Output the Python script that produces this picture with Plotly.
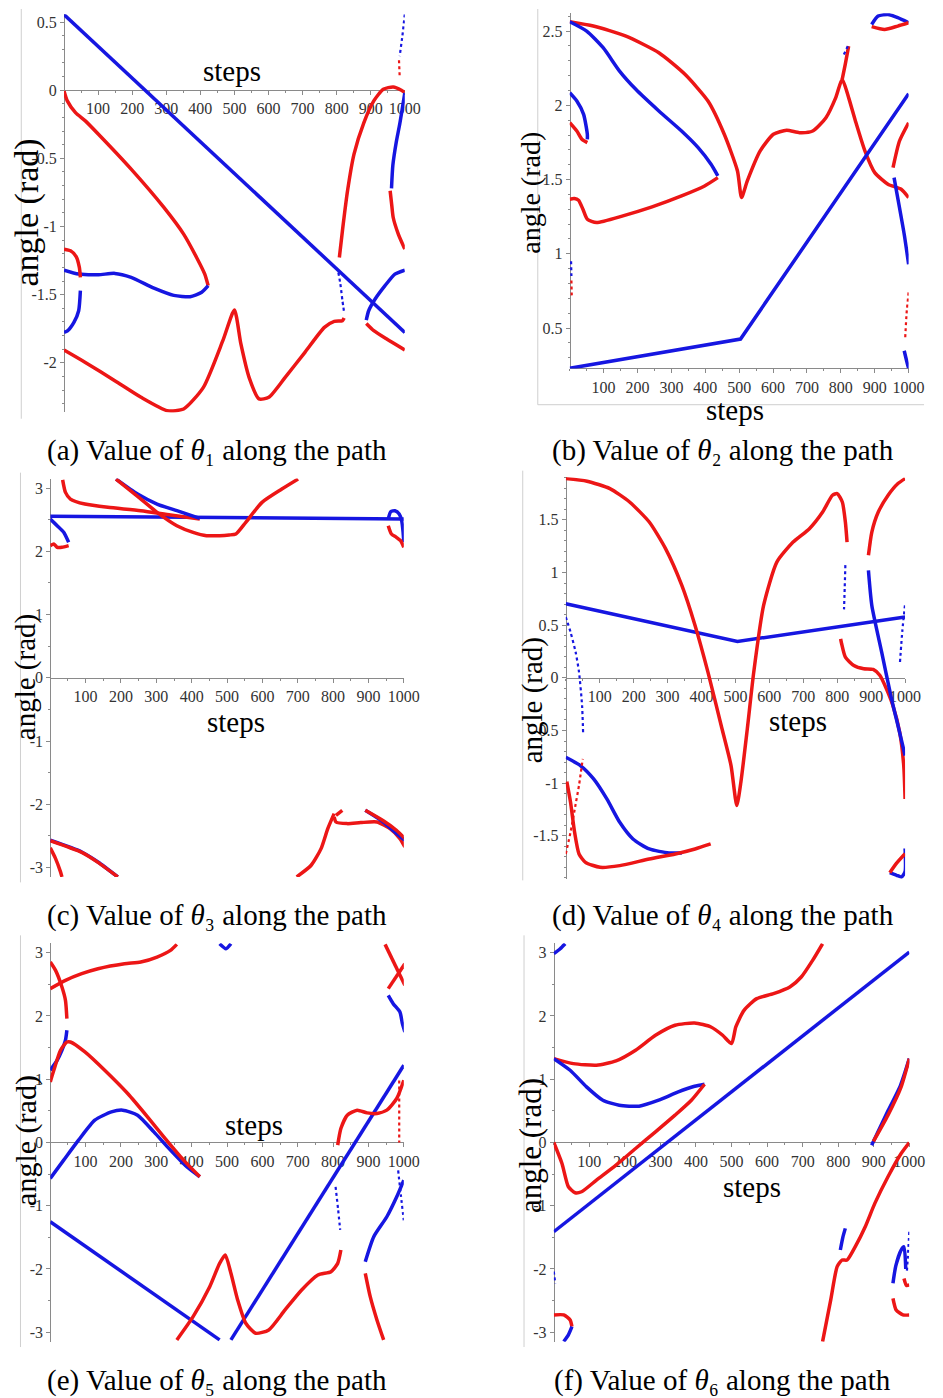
import plotly.graph_objects as go

# The page body has an 8px margin, so the figure is laid out in a 935x1390 box
# placed at (8, 8) inside the 943x1398 window.
OFF = 8
W, H = 935, 1390
RED = "rgb(236,22,22)"
BLUE = "rgb(22,22,225)"

# ---------------- data (steps, angle in rad) ----------------
# Panel (a) theta1
a_blue_line = [(0, 0.555), (1000, -1.777)]
a_red_1 = [(0, -0.005), (9.6, -0.078), (33.7, -0.164), (62.5, -0.225), (101, -0.323), (197, -0.579),
           (293, -0.860), (351, -1.056), (389, -1.227), (413, -1.349), (423, -1.434)]
a_blue_1 = [(0, -1.320), (43, -1.349), (101, -1.354), (149, -1.344), (197, -1.373), (264, -1.452),
            (322, -1.505), (370, -1.515), (404, -1.483), (423, -1.434)]
a_red_2 = [(0, -1.166), (19, -1.178), (36, -1.222), (45, -1.300), (48, -1.373)]
a_blue_2 = [(48, -1.471), (43, -1.618), (29, -1.704), (10, -1.766), (0, -1.777)]
a_red_3 = [(0, -1.906), (62.5, -1.997), (149, -2.131), (226, -2.253), (303, -2.351), (351, -2.339),
           (409, -2.180), (466, -1.838), (500, -1.613), (519, -1.862), (543, -2.107), (572, -2.265),
           (601, -2.253), (649, -2.107), (707, -1.923), (764, -1.740), (793, -1.696), (817, -1.691),
           (822, -1.672)]
a_blue_3 = [(805, -1.337), (811, -1.422), (817, -1.544), (822, -1.630)]
a_red_4 = [(808, -1.227), (817, -1.031), (832, -0.738), (851, -0.469), (880, -0.237), (909, -0.078),
           (937, 0.007), (966, 0.024), (990, 0.0), (1000, -0.017)]
a_red_5 = [(983, 0.22), (985, 0.10)]
a_blue_4 = [(1000, 0.557), (993, 0.40), (985, 0.25)]
a_blue_5 = [(1000, -0.02), (985, -0.25), (975, -0.38), (965, -0.55), (961, -0.72)]
a_red_6 = [(957, -0.738), (962, -0.85), (966, -0.934), (981, -1.056), (1000, -1.166)]
a_blue_6 = [(887, -1.686), (894, -1.618), (913, -1.532), (942, -1.434), (971, -1.349), (1000, -1.320)]
a_red_7 = [(887, -1.711), (909, -1.764), (947, -1.826), (1000, -1.906)]

# Panel (b) theta2
b_blue_line = [(0, 0.229), (504, 0.426), (1000, 2.078)]
b_red_1 = [(0, 2.563), (69.6, 2.534), (166, 2.466), (263, 2.354), (340, 2.209), (408, 2.029), (456, 1.805),
           (495, 1.558), (507, 1.379), (524, 1.491), (562, 1.693), (601, 1.805), (640, 1.832), (678, 1.816),
           (717, 1.827), (756, 1.917), (785, 2.052), (804, 2.175), (823, 2.052), (843, 1.895), (871, 1.693),
           (900, 1.547), (939, 1.469), (978, 1.435), (1000, 1.379)]
b_red_2 = [(804, 2.175), (813, 2.276), (823, 2.399)]
b_blue_1 = [(809, 2.343), (823, 2.41)]
b_blue_2 = [(0, 2.563), (50, 2.5), (98.6, 2.388), (147, 2.231), (195, 2.108), (263, 1.962), (330, 1.827),
            (379, 1.715), (417, 1.603), (437, 1.525)]
b_red_3 = [(437, 1.513), (398, 1.457), (330, 1.390), (243, 1.316), (157, 1.256), (79, 1.211), (52, 1.233),
           (39, 1.300), (26, 1.361), (13.5, 1.372), (0, 1.368)]
b_blue_3 = [(0, 2.085), (21, 2.029), (41, 1.939), (52, 1.805), (52, 1.771)]
b_red_4 = [(0, 1.883), (21, 1.827), (36, 1.771), (52, 1.749)]
b_blue_4 = [(4, 0.95), (5, 0.85)]
b_red_5 = [(5, 0.82), (6, 0.72)]
b_blue_5 = [(891, 2.545), (910, 2.601), (939, 2.612), (968, 2.590), (1000, 2.556)]
b_red_6 = [(891, 2.530), (929, 2.511), (968, 2.534), (1000, 2.556)]
b_red_7 = [(954, 1.581), (973, 1.760), (1000, 1.883)]
b_blue_6 = [(957, 1.513), (973, 1.312), (987, 1.132), (1000, 0.930)]
b_red_8 = [(1000, 0.740), (994, 0.6), (990, 0.437)]
b_blue_7 = [(987, 0.347), (994, 0.28), (1000, 0.229)]

# Panel (c) theta3
c_blue_line = [(0, 2.553), (1000, 2.511)]
c_blue_1 = [(956, 2.511), (963, 2.626), (975, 2.642), (987, 2.589), (994, 2.484), (998, 2.3), (1000, 2.142)]
c_red_1 = [(956, 2.405), (965, 2.274), (979, 2.221), (991, 2.168), (1000, 2.063)]
c_blue_2 = [(0, 2.511), (19.5, 2.405), (38, 2.3), (52, 2.142)]
c_red_2 = [(0, 2.089), (10, 2.116), (19.5, 2.063), (33, 2.063), (52, 2.089)]
c_red_3 = [(35, 3.13), (43, 2.932), (57, 2.826), (98, 2.747), (163, 2.695), (256, 2.642), (340, 2.574),
           (423, 2.511)]
c_blue_3 = [(186, 3.142), (247, 2.905), (302, 2.747), (358, 2.642), (423, 2.521)]
c_red_4 = [(186, 3.142), (247, 2.868), (302, 2.616), (358, 2.405), (404, 2.3), (442, 2.247), (479, 2.247),
           (506, 2.258), (525, 2.274), (553, 2.458), (599, 2.774), (655, 2.984), (701, 3.142)]
c_blue_4 = [(0, -2.568), (89, -2.753), (135, -2.911), (191, -3.147)]
c_red_5 = [(0, -2.575), (89, -2.76), (135, -2.918), (191, -3.147)]
c_red_6 = [(0, -2.689), (15, -2.858), (29, -3.068), (33, -3.147)]
c_red_7 = [(697, -3.147), (738, -2.963), (766, -2.700), (785, -2.384), (803, -2.147)]
c_red_8 = [(803, -2.2), (808, -2.279), (840, -2.305), (878, -2.289), (924, -2.279), (961, -2.384),
           (989, -2.542), (1003, -2.674)]
c_red_9 = [(808, -2.174), (826, -2.095)]
c_blue_5 = [(891, -2.095), (942, -2.279), (979, -2.458), (1003, -2.568)]
c_red_10 = [(891, -2.095), (942, -2.26), (979, -2.41), (1003, -2.542)]

# Panel (d) theta4
d_blue_line = [(0, 0.703), (506, 0.345), (1000, 0.577)]
d_red_1 = [(0, 1.891), (62.7, 1.866), (130, 1.796), (188, 1.669), (246, 1.479), (294, 1.226), (342, 0.877),
           (381, 0.497), (419, 0.054), (458, -0.453), (487, -0.833), (504, -1.213), (516, -0.991),
           (535, -0.485), (554, 0.054), (583, 0.687), (622, 1.099), (670, 1.289), (718, 1.416),
           (757, 1.574), (786, 1.733), (800, 1.749), (815, 1.669), (824, 1.479), (829, 1.289)]
d_blue_1 = [(824, 1.07), (822, 0.85), (820, 0.65)]
d_red_2 = [(810, 0.37), (813, 0.323), (824, 0.196), (849, 0.117), (878, 0.086), (906, 0.079), (926, 0.022),
           (945, -0.105), (964, -0.263), (984, -0.516), (996, -0.833), (1000, -1.15)]
d_red_3 = [(892, 1.163), (902, 1.384), (921, 1.574), (950, 1.733), (979, 1.844), (1000, 1.891)]
d_blue_2 = [(892, 1.02), (902, 0.687), (931, 0.244), (960, -0.2), (979, -0.453), (1000, -0.738)]
d_blue_3 = [(985, 0.15), (992, 0.45), (1000, 0.70)]
d_blue_4 = [(0, 0.577), (14, 0.434), (29, 0.244), (39, 0.054), (48, -0.263), (51, -0.516)]
d_red_4 = [(3, -0.985), (14, -1.181), (26, -1.467), (39, -1.672), (58, -1.752), (101, -1.799), (159, -1.783),
           (246, -1.720), (323, -1.672), (381, -1.625), (427, -1.577)]
d_red_5 = [(0, -1.672), (15, -1.45), (29, -1.20), (39, -1.02), (50, -0.77)]
d_blue_5 = [(0, -0.754), (43, -0.833), (82, -0.96), (121, -1.15), (159, -1.372), (198, -1.53), (246, -1.625),
            (304, -1.663), (342, -1.663)]
d_blue_6 = [(955, -1.85), (975, -1.875), (990, -1.89), (1000, -1.84), (1000, -1.62)]
d_red_6 = [(955, -1.85), (975, -1.76), (1000, -1.67)]

# Panel (e) theta5
e_blue_line_1 = [(0, -1.253), (479, -3.121)]
e_blue_line_2 = [(511, -3.121), (1000, 1.221)]
e_blue_1 = [(479, 3.142), (497, 3.063), (511, 3.142)]
e_red_1 = [(0, 2.432), (43, 2.563), (89, 2.668), (135, 2.747), (210, 2.826), (256, 2.853), (302, 2.932),
           (340, 3.037), (358, 3.132)]
e_red_2 = [(0, 2.853), (15, 2.721), (33, 2.458), (43, 2.247), (47, 1.958)]
e_blue_2 = [(0, 1.142), (19.5, 1.3), (33, 1.458), (43, 1.616), (47, 1.774)]
e_red_3 = [(0, 0.958), (10, 1.142), (29, 1.458), (47, 1.589), (57, 1.589), (98, 1.432), (154, 1.142),
           (219, 0.774), (275, 0.405), (321, 0.089), (377, -0.279), (423, -0.542)]
e_blue_3 = [(0, -0.568), (38, -0.279), (80, 0.037), (126, 0.353), (173, 0.484), (205, 0.511), (247, 0.432),
            (293, 0.168), (340, -0.121), (386, -0.384), (423, -0.542)]
e_red_4 = [(358, -3.121), (404, -2.753), (451, -2.279), (479, -1.911), (495, -1.779), (511, -2.068),
           (530, -2.489), (553, -2.858), (581, -3.016), (618, -2.963), (664, -2.647), (711, -2.332),
           (757, -2.095), (794, -2.042), (813, -1.911), (822, -1.7)]
e_red_5 = [(813, -0.042), (822, 0.221), (840, 0.432), (868, 0.511), (896, 0.468), (924, 0.458), (952, 0.511),
           (980, 0.695), (1000, 0.984)]
e_blue_4 = [(807, -0.7), (814, -1.05), (820, -1.38)]
e_blue_5 = [(891, -1.884), (915, -1.489), (952, -1.174), (980, -0.858), (1000, -0.595)]
e_blue_6 = [(984, -0.44), (992, -0.85), (1000, -1.23)]
e_red_6 = [(891, -2.068), (905, -2.437), (924, -2.805), (943, -3.121)]
e_red_7 = [(987, 0.98), (987, 0.0)]
e_red_8 = [(947, 3.132), (975, 2.80), (1003, 2.484)]
e_red_9 = [(956, 2.432), (980, 2.63), (1003, 2.826)]
e_blue_7 = [(956, 2.326), (970, 2.195), (989, 2.063), (996, 1.879), (1003, 1.747)]

# Panel (f) theta6
f_blue_line = [(0, -1.411), (1000, 3.011)]
f_red_1 = [(0, 1.326), (55, 1.247), (120, 1.221), (175, 1.289), (230, 1.458), (286, 1.695), (341, 1.853),
           (396, 1.889), (442, 1.826), (475, 1.695), (500, 1.563), (512, 1.826), (535, 2.089), (571, 2.274),
           (618, 2.353), (664, 2.458), (696, 2.616), (728, 2.879), (756, 3.142)]
f_blue_1 = [(0, 1.326), (46, 1.142), (92, 0.879), (138, 0.668), (184, 0.589), (240, 0.574), (295, 0.668),
            (350, 0.8), (396, 0.889), (424, 0.921)]
f_red_2 = [(424, 0.921), (387, 0.668), (341, 0.432), (286, 0.168), (230, -0.095), (175, -0.358),
           (120, -0.595), (78, -0.779), (60, -0.795), (41, -0.7), (23, -0.332), (0, 0.0)]
f_blue_2 = [(0, 2.984), (18, 3.063), (32, 3.142)]
f_blue_3 = [(894, -0.042), (940, 0.5), (975, 0.9), (1000, 1.326)]
f_red_3 = [(899, 0.016), (940, 0.432), (977, 0.879), (1000, 1.326)]
f_red_4 = [(756, -3.147), (779, -2.489), (797, -1.963), (811, -1.858), (825, -1.858), (848, -1.647),
           (876, -1.332), (903, -0.963), (940, -0.542), (977, -0.174), (1000, 0.0)]
f_blue_4 = [(806, -1.7), (813, -1.5), (820, -1.358)]
f_blue_5 = [(954, -2.226), (962, -1.95), (977, -1.7), (985, -1.65), (990, -2.0)]
f_blue_6 = [(1000, -1.411), (996, -1.8), (993, -2.05)]
f_red_5 = [(985, -2.15), (992, -2.26), (1000, -2.25)]
f_red_6 = [(954, -2.463), (963, -2.647), (982, -2.726), (1000, -2.726)]
f_red_7 = [(0, -2.726), (28, -2.726), (46, -2.805), (51, -2.911)]
f_blue_7 = [(51, -2.911), (41, -3.042), (28, -3.147)]
f_blue_8 = [(0, -2.04), (4, -2.23)]

# ---------------- panel layout (pixel geometry in the 943x1398 window) ----------------
panels = [
    dict(key="a", xpx=(65, 411.7), ypx=(13.3, 411.7), yr=(-2.364, 0.557), xaxis_at=0.0,
         yt=[0.5, 0, -0.5, -1, -1.5, -2], ytt=["0.5", "0", "-0.5", "-1", "-1.5", "-2"], ymin=0.1,
         steps=(236, 70), ang=(27, 212, 34), cap=(221, 450, "(a) Value of <i>θ</i>₁ along the path"),
         frame=[(21.5, 8, 21.5, 418)]),
    dict(key="b", xpx=(579.5, 924.3), ypx=(12.3, 367.7), yr=(0.228, 2.62), xaxis_at=None,
         yt=[2.5, 2, 1.5, 1, 0.5], ytt=["2.5", "2", "1.5", "1", "0.5"], ymin=0.1,
         steps=(748, 409), ang=(540, 192, 28), cap=(735, 450, "(b) Value of <i>θ</i>₂ along the path"),
         frame=[(547, 8, 547, 404), (547, 404, 940, 404)]),
    dict(key="c", xpx=(51, 410.7), ypx=(477.9, 876.7), yr=(-3.15, 3.15), xaxis_at=0.0,
         yt=[3, 2, 1, 0, -1, -2, -3], ytt=["3", "2", "1", "0", "-1", "-2", "-3"], ymin=0.5,
         steps=(240, 722), ang=(26, 677, 29), cap=(221, 915, "(c) Value of <i>θ</i>₃ along the path"),
         frame=[(20.7, 472, 20.7, 882)]),
    dict(key="d", xpx=(575.5, 920.7), ypx=(476.7, 878.3), yr=(-1.907, 1.903), xaxis_at=0.0,
         yt=[1.5, 1, 0.5, 0, -0.5, -1, -1.5], ytt=["1.5", "1", "0.5", "0", "-0.5", "-1", "-1.5"], ymin=0.1,
         steps=(812, 721), ang=(542, 700, 29), cap=(735, 915, "(d) Value of <i>θ</i>₄ along the path"),
         frame=[(531.7, 470, 531.7, 880)]),
    dict(key="e", xpx=(51, 410.7), ypx=(942.9, 1341.7), yr=(-3.15, 3.15), xaxis_at=0.0,
         yt=[3, 2, 1, 0, -1, -2, -3], ytt=["3", "2", "1", "0", "-1", "-2", "-3"], ymin=0.5,
         steps=(258, 1125), ang=(26, 1140, 30), cap=(221, 1380, "(e) Value of <i>θ</i>₅ along the path"),
         frame=[(20.7, 935, 20.7, 1347)]),
    dict(key="f", xpx=(563.3, 925), ypx=(942.9, 1341.7), yr=(-3.15, 3.15), xaxis_at=0.0,
         yt=[3, 2, 1, 0, -1, -2, -3], ytt=["3", "2", "1", "0", "-1", "-2", "-3"], ymin=0.5,
         steps=(765, 1187), ang=(539, 1145, 31), cap=(735, 1380, "(f) Value of <i>θ</i>₆ along the path"),
         frame=[(533, 935, 533, 1347)]),
]

curves = {
    "a": [(a_blue_line, BLUE, "lin"), (a_red_1, RED, ""), (a_blue_1, BLUE, ""), (a_red_2, RED, ""),
          (a_blue_2, BLUE, ""), (a_red_3, RED, ""), (a_blue_3, BLUE, "dot"), (a_red_4, RED, ""),
          (a_red_5, RED, "dot"), (a_blue_4, BLUE, "dot"), (a_blue_5, BLUE, ""), (a_red_6, RED, ""),
          (a_blue_6, BLUE, ""), (a_red_7, RED, "")],
    "b": [(b_red_1, RED, ""), (b_red_2, RED, ""), (b_blue_1, BLUE, "dot"), (b_blue_2, BLUE, ""),
          (b_red_3, RED, ""), (b_blue_3, BLUE, ""), (b_red_4, RED, ""), (b_blue_4, BLUE, "dot"),
          (b_red_5, RED, "dot"), (b_blue_5, BLUE, ""), (b_red_6, RED, ""), (b_red_7, RED, ""),
          (b_blue_6, BLUE, ""), (b_red_8, RED, "dot"), (b_blue_7, BLUE, ""), (b_blue_line, BLUE, "lin")],
    "c": [(c_blue_line, BLUE, "lin"), (c_blue_1, BLUE, ""), (c_red_1, RED, ""), (c_blue_2, BLUE, ""),
          (c_red_2, RED, ""), (c_red_3, RED, ""), (c_blue_3, BLUE, ""), (c_red_4, RED, ""),
          (c_blue_4, BLUE, ""), (c_red_5, RED, ""), (c_red_6, RED, ""), (c_red_7, RED, ""),
          (c_red_8, RED, ""), (c_red_9, RED, ""), (c_blue_5, BLUE, ""), (c_red_10, RED, "")],
    "d": [(d_blue_line, BLUE, "lin"), (d_red_1, RED, ""), (d_blue_1, BLUE, "dot"), (d_red_2, RED, ""),
          (d_red_3, RED, ""), (d_blue_2, BLUE, ""), (d_blue_3, BLUE, "dot"), (d_blue_4, BLUE, "dot"),
          (d_blue_5, BLUE, ""), (d_red_4, RED, ""), (d_red_5, RED, "dot"), (d_blue_6, BLUE, ""),
          (d_red_6, RED, "")],
    "e": [(e_blue_line_1, BLUE, "lin"), (e_blue_line_2, BLUE, "lin"), (e_blue_1, BLUE, ""), (e_red_1, RED, ""),
          (e_red_2, RED, ""), (e_blue_2, BLUE, ""), (e_blue_3, BLUE, ""), (e_red_3, RED, ""),
          (e_red_4, RED, ""), (e_red_5, RED, ""), (e_blue_4, BLUE, "dot"), (e_blue_5, BLUE, ""),
          (e_blue_6, BLUE, "dot"), (e_red_6, RED, ""), (e_red_7, RED, "dot"), (e_red_8, RED, "lin"),
          (e_red_9, RED, "lin"), (e_blue_7, BLUE, "")],
    "f": [(f_blue_line, BLUE, "lin"), (f_red_1, RED, ""), (f_blue_1, BLUE, ""), (f_red_2, RED, ""),
          (f_blue_2, BLUE, ""), (f_blue_3, BLUE, ""), (f_red_3, RED, ""), (f_red_4, RED, ""),
          (f_blue_4, BLUE, ""), (f_blue_5, BLUE, ""), (f_blue_6, BLUE, "dot"), (f_red_5, RED, ""),
          (f_red_6, RED, ""), (f_red_7, RED, ""), (f_blue_7, BLUE, ""), (f_blue_8, BLUE, "dot")],
}


def px_x(v):
    return (v - OFF) / W


def px_y(v):
    return 1 - (v - OFF) / H


FONT = "Liberation Serif"
AXC = "#8a8a8a"
fig = go.Figure()
layout = dict(width=W, height=H, margin=dict(l=0, r=0, t=0, b=0), paper_bgcolor="white",
              plot_bgcolor="white", showlegend=False, annotations=[], shapes=[])

for i, p in enumerate(panels):
    n = "" if i == 0 else str(i + 1)
    xd = [px_x(p["xpx"][0]), px_x(p["xpx"][1])]
    yd = [px_y(p["ypx"][1]), px_y(p["ypx"][0])]
    y0, y1 = p["yr"]
    if p["xaxis_at"] is None:
        xpos = yd[0]
    else:
        xpos = yd[0] + (p["xaxis_at"] - y0) / (y1 - y0) * (yd[1] - yd[0])
    layout["xaxis" + n] = dict(domain=xd, range=[0, 1000], anchor="free", position=xpos,
                               showline=True, linecolor=AXC, linewidth=1, showgrid=False, zeroline=False,
                               tickvals=list(range(100, 1001, 100)), ticks="outside", ticklen=4,
                               tickcolor=AXC, tickfont=dict(family=FONT, size=16, color="#333"),
                               minor=dict(ticks="outside", ticklen=2, tickcolor=AXC, dtick=50, tick0=0),
                               layer="below traces", fixedrange=True)
    layout["yaxis" + n] = dict(domain=yd, range=[y0, y1], anchor="free", position=xd[0],
                               showline=True, linecolor=AXC, linewidth=1, showgrid=False, zeroline=False,
                               tickvals=p["yt"], ticktext=p["ytt"], ticks="outside", ticklen=4,
                               tickcolor=AXC, tickfont=dict(family=FONT, size=16, color="#333"),
                               minor=dict(ticks="outside", ticklen=2, tickcolor=AXC, dtick=p["ymin"], tick0=0),
                               layer="below traces", fixedrange=True)
    for pts, col, kind in curves[p["key"]]:
        xs = [q[0] for q in pts]
        ys = [q[1] for q in pts]
        if kind == "lin":
            line = dict(color=col, width=3.5, shape="linear")
        elif kind == "dot":
            line = dict(color=col, width=2.2, dash="dot", shape="spline", smoothing=0.6)
        else:
            line = dict(color=col, width=3.5, shape="spline", smoothing=0.6)
        fig.add_trace(go.Scatter(x=xs, y=ys, mode="lines", line=line, xaxis="x" + n, yaxis="y" + n,
                                 hoverinfo="skip", showlegend=False))
    sx, sy = p["steps"]
    layout["annotations"].append(dict(text="steps", x=px_x(sx), y=px_y(sy), xref="paper", yref="paper",
                                      showarrow=False, xanchor="center", yanchor="middle", borderpad=0,
                                      font=dict(family=FONT, size=29, color="black")))
    axx, ayy, asz = p["ang"]
    layout["annotations"].append(dict(text="angle (rad)", x=px_x(axx), y=px_y(ayy), xref="paper",
                                      yref="paper", showarrow=False, textangle=-90, xanchor="center",
                                      yanchor="middle", font=dict(family=FONT, size=asz, color="black")))
    cx, cy, ct = p["cap"]
    layout["annotations"].append(dict(text=ct, x=px_x(cx), y=px_y(cy), xref="paper", yref="paper",
                                      showarrow=False, xanchor="center", yanchor="middle",
                                      font=dict(family=FONT, size=29, color="black")))
    for (fx0, fy0, fx1, fy1) in p["frame"]:
        layout["shapes"].append(dict(type="line", xref="paper", yref="paper", x0=px_x(fx0), x1=px_x(fx1),
                                     y0=px_y(fy0), y1=px_y(fy1), line=dict(color="#cfcfcf", width=1)))

fig.update_layout(**layout)
fig.write_html("out.html")
